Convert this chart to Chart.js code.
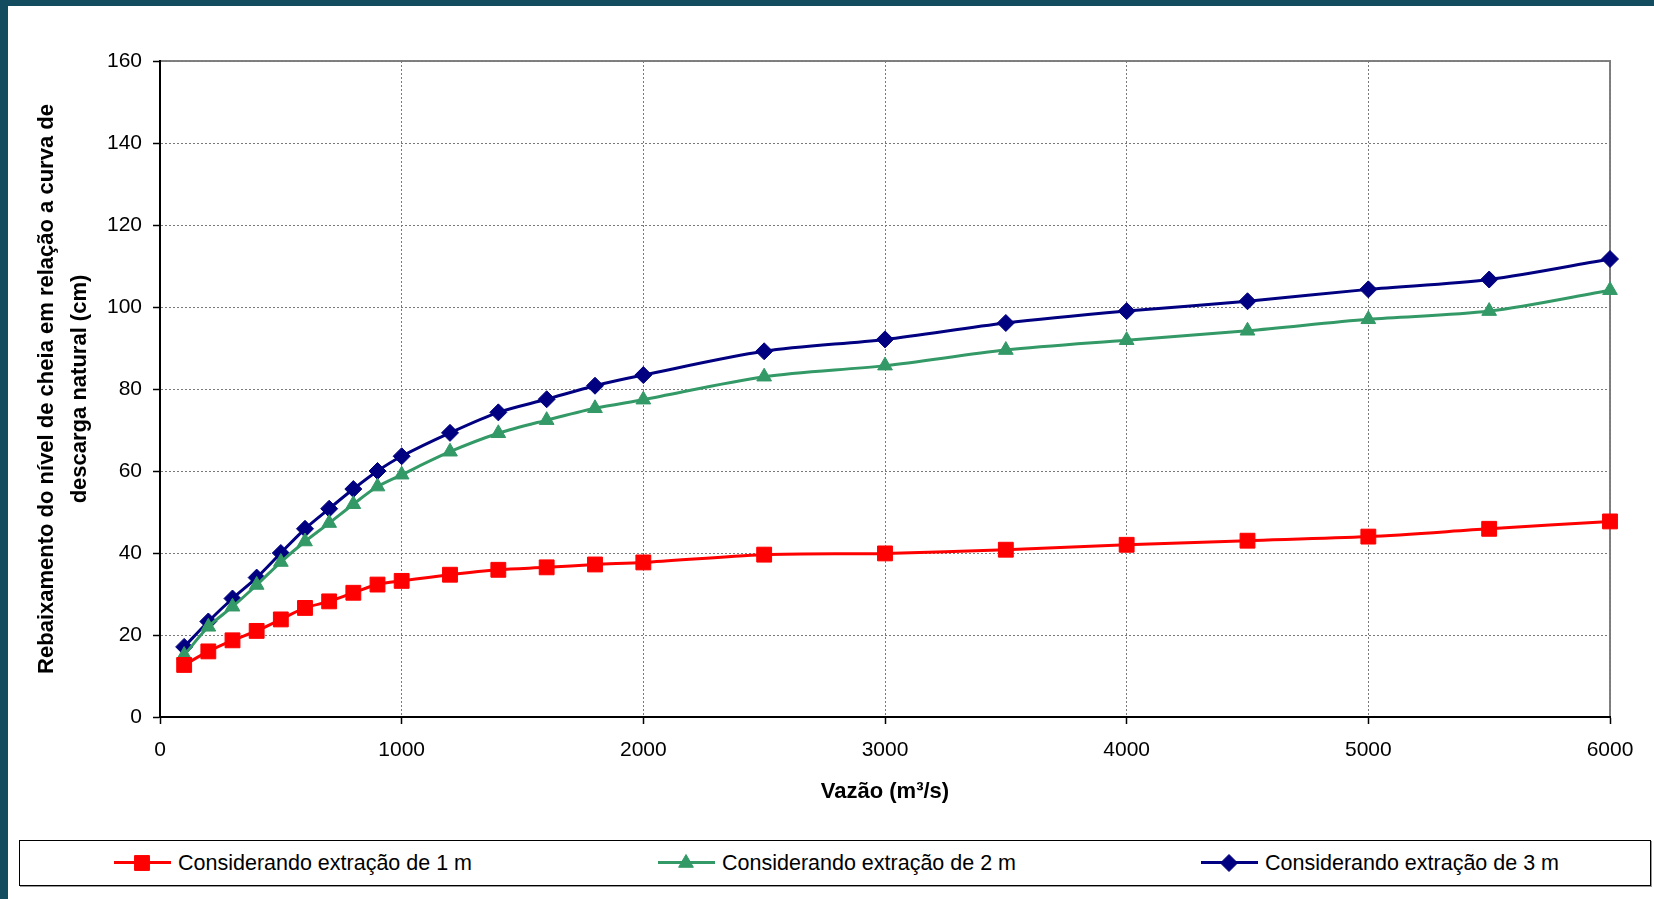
<!DOCTYPE html>
<html>
<head>
<meta charset="utf-8">
<title>Rebaixamento x Vazão</title>
<script src="https://cdn.jsdelivr.net/npm/chart.js@4/dist/chart.umd.min.js"></script>
<style>
    body { margin: 0; background: #fff; font-family: Arial, "Liberation Sans", sans-serif; }
    #wrap { position: relative; width: 1654px; height: 899px; overflow: hidden; background: #fff; }
    #box_grafik { position: absolute; left: 0; top: 0; width: 1654px; height: 830px; }
    .frame { position: absolute; background: #134b5f; }
    #legenda { position: absolute; left: 19px; top: 840px; width: 1630px; height: 44px; border: 1px solid #000; box-shadow: 1px 1px 0 #999; }
    .item { position: absolute; top: 0; height: 44px; }
    .garis { position: absolute; top: 20px; width: 57px; height: 3px; }
    .teks { position: absolute; top: 0; line-height: 44px; font-size: 21.5px; color: #000; white-space: nowrap; }
</style>
</head>
<body>
<div id="wrap">
    <div id="box_grafik"><canvas id="Rebaixamento"></canvas></div>
    <div id="legenda"></div>
    <div class="frame" style="left:0;top:0;width:1654px;height:6px"></div>
    <div class="frame" style="left:0;top:0;width:8px;height:899px"></div>
</div>

<script>
// data dibaca dari grafik asli
const vazao = [100, 200, 300, 400, 500, 600, 700, 800, 900, 1000, 1200, 1400, 1600, 1800, 2000, 2500, 3000, 3500, 4000, 4500, 5000, 5500, 6000];
const extracao_1m = [12.7, 16.0, 18.7, 21.0, 23.8, 26.6, 28.2, 30.3, 32.3, 33.2, 34.7, 35.9, 36.5, 37.2, 37.7, 39.6, 39.9, 40.8, 42.0, 43.0, 44.0, 45.9, 47.7];
const extracao_2m = [15.1, 22.0, 26.9, 32.2, 37.8, 42.8, 47.3, 51.9, 56.2, 59.1, 64.7, 69.2, 72.4, 75.3, 77.4, 83.0, 85.7, 89.5, 91.9, 94.2, 97.0, 99.0, 104.1];
const extracao_3m = [17.1, 23.3, 28.9, 34.0, 40.0, 45.9, 50.8, 55.6, 60.0, 63.6, 69.3, 74.3, 77.5, 80.8, 83.4, 89.2, 92.1, 96.1, 99.0, 101.4, 104.3, 106.7, 111.7];
const nama_seri = ['Considerando extração de 1 m', 'Considerando extração de 2 m', 'Considerando extração de 3 m'];
const judul_y = ['Rebaixamento do nível de cheia em relação a curva de', 'descarga natural (cm)'];
const judul_x = 'Vazão (m³/s)';

function pasangan(ys) {
    var hasil = [];
    for (var i = 0; i < vazao.length; i++) {
        hasil.push({x: vazao[i], y: ys[i]});
    }
    return hasil;
}

// bingkai abu-abu area plot (gaya excel)
const bingkai = {
    id: 'bingkai',
    beforeDraw(chart) {
        const {ctx, chartArea} = chart;
        ctx.save();
        ctx.strokeStyle = '#808080';
        ctx.lineWidth = 2;
        ctx.strokeRect(chartArea.left, chartArea.top, chartArea.right - chartArea.left, chartArea.bottom - chartArea.top);
        ctx.restore();
    }
};

const fontTick = {family: 'Arial, "Liberation Sans"', size: 21};
const fontJudul = {family: 'Arial, "Liberation Sans"', size: 22, weight: 'bold', lineHeight: 1.5};

const ctx_grafik = document.getElementById('Rebaixamento');
const grafik = new Chart(ctx_grafik, {
    type: 'line',
    data: {
        datasets: [{
            label: nama_seri[0],
            data: pasangan(extracao_1m),
            borderColor: '#ff0000',
            backgroundColor: '#ff0000',
            borderWidth: 3,
            pointStyle: 'rect',
            pointRadius: 10.5,
            pointBorderWidth: 1,
            tension: 0.3,
            clip: false
        }, {
            label: nama_seri[1],
            data: pasangan(extracao_2m),
            borderColor: '#339966',
            backgroundColor: '#339966',
            borderWidth: 3,
            pointStyle: 'triangle',
            pointRadius: 8.5,
            pointBorderWidth: 1,
            tension: 0.3,
            clip: false
        }, {
            label: nama_seri[2],
            data: pasangan(extracao_3m),
            borderColor: '#000080',
            backgroundColor: '#000080',
            borderWidth: 3,
            pointStyle: 'rectRot',
            pointRadius: 8.5,
            pointBorderWidth: 1,
            tension: 0.3,
            clip: false
        }]
    },
    options: {
        responsive: true,
        maintainAspectRatio: false,
        animation: false,
        layout: {
            padding: {left: 0, top: 61, right: 44, bottom: 22}
        },
        plugins: {
            legend: {display: false},
            tooltip: {enabled: false}
        },
        scales: {
            x: {
                type: 'linear',
                min: 0,
                max: 6000,
                afterFit: function (scale) { scale.height = 91; },
                ticks: {
                    stepSize: 1000, color: '#000', font: fontTick, padding: 14, maxRotation: 0,
                    callback: function (v) { return String(v); }
                },
                grid: {color: '#7a7a7a', lineWidth: 1, tickColor: '#000', tickLength: 7, tickWidth: 1.5, tickBorderDash: []},
                border: {color: '#000', width: 2, dash: [2, 2]},
                title: {display: true, text: judul_x, color: '#000', font: fontJudul, padding: {top: 0, bottom: 0}}
            },
            y: {
                min: 0,
                max: 160,
                afterFit: function (scale) { scale.width = 160; },
                ticks: {stepSize: 20, color: '#000', font: fontTick, padding: 11},
                grid: {color: '#7a7a7a', lineWidth: 1, tickColor: '#000', tickLength: 7, tickWidth: 1.5, tickBorderDash: []},
                border: {color: '#000', width: 2, dash: [2, 2]},
                title: {display: true, text: judul_y, color: '#000', font: fontJudul, padding: {top: 30, bottom: 0}}
            }
        }
    },
    plugins: [bingkai]
});

// legenda html dari dataset grafik
const posisi_item = [94, 638, 1181];
const legenda = document.getElementById('legenda');
grafik.data.datasets.forEach(function (ds, i) {
    var item = document.createElement('div');
    item.className = 'item';
    item.style.left = posisi_item[i] + 'px';

    var garis = document.createElement('div');
    garis.className = 'garis';
    garis.style.left = '0px';
    garis.style.background = ds.borderColor;
    item.appendChild(garis);

    var tanda = document.createElement('canvas');
    tanda.width = 24; tanda.height = 24;
    tanda.style.position = 'absolute';
    tanda.style.left = '16px';
    tanda.style.top = '10px';
    var c = tanda.getContext('2d');
    c.fillStyle = ds.backgroundColor;
    c.strokeStyle = ds.borderColor;
    c.lineWidth = 1;
    Chart.helpers.drawPoint(c, {pointStyle: ds.pointStyle, radius: ds.pointRadius, borderWidth: 1}, 12, 12);
    item.appendChild(tanda);

    var teks = document.createElement('div');
    teks.className = 'teks';
    teks.style.left = '64px';
    teks.textContent = ds.label;
    item.appendChild(teks);

    legenda.appendChild(item);
});
</script>
</body>
</html>
